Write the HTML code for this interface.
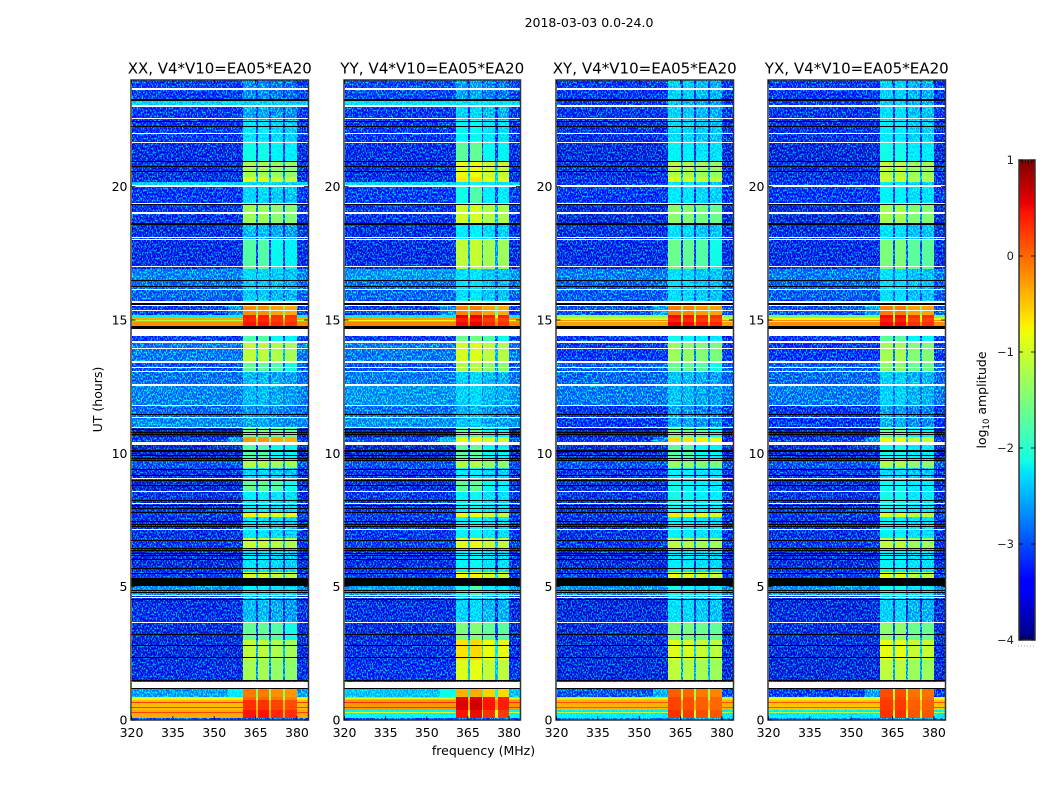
<!DOCTYPE html>
<html lang="en">
<head>
<meta charset="utf-8">
<title>2018-03-03 dynamic spectra</title>
<style>
html,body{margin:0;padding:0;background:#fff;}
svg{display:block;font-family:"DejaVu Sans","Liberation Sans",sans-serif;fill:#000;}
</style>
</head>
<body>
<svg id="figure" xmlns="http://www.w3.org/2000/svg" width="1050" height="800" viewBox="0 0 1050 800">
  <defs>
    <filter id="speckle" filterUnits="userSpaceOnUse" x="0" y="0" width="1050" height="800" color-interpolation-filters="sRGB">
      <feTurbulence type="fractalNoise" baseFrequency="0.8 0.5" numOctaves="1" seed="7" result="raw"/>
      <feColorMatrix in="raw" type="matrix" values="0 0 0 0 0  5 0 0 0 -2.3  0 0 0 0 0  0 0 0 0 1" result="grain"/>
      <feColorMatrix in="SourceGraphic" type="matrix" values="0 0 0 0 0  0 0 1 0 0  0 0 0 0 0  0 0 0 1 0" result="coldMask"/>
      <feComposite in="coldMask" in2="grain" operator="arithmetic" k1="1" k2="0" k3="0" k4="0" result="coldGrain"/>
      <feComposite in="SourceGraphic" in2="coldGrain" operator="arithmetic" k1="0" k2="1" k3="0.8" k4="0"/>
    </filter>
    <linearGradient id="jet-gradient" x1="0" y1="1" x2="0" y2="0"></linearGradient>
  </defs>
  <rect width="1050" height="800" fill="#fff"/>
  <text x="589" y="27" font-size="12.5" text-anchor="middle">2018-03-03 0.0-24.0</text>
  <text transform="translate(102,399.5) rotate(-90)" font-size="12.5" text-anchor="middle">UT (hours)</text>
  <text x="483.5" y="755" font-size="12.5" text-anchor="middle">frequency (MHz)</text>
  <text transform="translate(986,400) rotate(-90)" font-size="12.5" text-anchor="middle">log<tspan font-size="8.5" dy="3">10</tspan><tspan dy="-3"> amplitude</tspan></text>
  <g id="panels"></g>
  <g id="colorbar"></g>
</svg>
<script>
// UT band edges (hours) shared by all polarisation panels
const utEdges = [0,.075,.375,.75,.86,1.2,1.5,2.25,3.0,3.64,4.43,4.69,5.03,5.33,5.55,6.45,6.83,7.61,7.76,8.55,9.0,9.45,9.71,10.31,10.61,10.95,11.33,11.78,12.56,13.05,13.43,14.18,14.4,14.79,14.93,15.08,15.2,15.53,15.75,16.5,16.91,18.0,18.56,19.31,19.99,20.07,20.18,20.36,20.93,21.7,22.5,22.99,23.06,23.22,24];

// log10 amplitude outside the band-pass windows, one value per UT band
const xxBackground = [-2.9,-.35,-.45,-1.2,-2.5,-3.1,-3.2,-3.25,-3.25,-3.2,-3.3,-2.6,-3.3,-3,-3.25,-3.05,-3.2,-3.05,-3.2,-3.3,-3.2,-2.9,-3.3,-3,-3.45,-2.6,-2.8,-2.65,-2.75,-2.9,-2.7,-3,-3.3,-.2,-.35,-1.9,-3,-3.1,-2.8,-2.65,-3.2,-3.2,-3.15,-3.05,-3,-2.2,-3.2,-3.2,-3.2,-3.1,-3.1,-3,-2.2,-3];
const yyBackground = [-2.9,-1.9,-.25,-.45,-2.3,-3.1,-3.15,-3.2,-3.25,-3.2,-3.3,-2.5,-3.3,-3,-3.2,-3,-3.15,-3,-3.15,-3.25,-3.15,-2.9,-3.3,-2.9,-3.45,-2.55,-2.75,-2.55,-2.7,-2.9,-2.7,-3,-3.3,-.15,-.3,-2,-3,-3,-2.8,-2.55,-3.2,-3.2,-3.15,-3,-3,-2.2,-3.2,-3.2,-3.2,-3.1,-3.1,-3,-2.1,-2.95];
const xyBackground = [-2.6,-2,-.4,-1.5,-2.9,-3.1,-3.25,-3.25,-3.25,-3.25,-3.3,-2.6,-3.3,-3,-3.25,-3.05,-3.2,-3.05,-3.2,-3.25,-3.15,-2.9,-3.25,-3.1,-3.4,-3.1,-3.15,-2.7,-2.8,-2.85,-3.1,-3.1,-3.3,-.3,-1,-1.4,-2.9,-3,-2.85,-2.7,-3.2,-3.2,-3.25,-3.1,-3,-3.1,-3.2,-3.2,-3.25,-3.2,-3.15,-3.1,-3.1,-3.05];
const yxBackground = [-2.6,-2,-.5,-1,-3,-3.1,-3.25,-3.25,-3.25,-3.25,-3.3,-2.6,-3.3,-3,-3.25,-3.05,-3.2,-3.05,-3.2,-3.25,-3.15,-2.9,-3.25,-3.1,-3.4,-3.1,-3.15,-2.7,-2.8,-2.85,-3.05,-3.1,-3.3,-.2,-.75,-1.6,-2.9,-3,-2.85,-2.7,-3.2,-3.2,-3.25,-3.1,-3,-3.1,-3.2,-3.2,-3.25,-3.2,-3.15,-3.1,-3.05,-3.05];

// log10 amplitude inside the band-pass windows, one value per UT band
const xxSignal = [-2.9,.4,.25,-.05,-.15,-3,-1.3,-1.15,-1.7,-2.4,-2.4,-2,-2,-1,-2.1,-1.1,-2.1,-.8,-2,-1.7,-2.2,-1.2,-1.8,-.3,-1.6,-2.5,-2.6,-2.4,-2.4,-1.7,-1.15,-1.8,-2.2,.4,.3,.35,-.25,-1.9,-2.3,-2.2,-1.8,-2.4,-1.35,-2.2,-2.2,-2.2,-.95,-1.3,-1.85,-2.1,-2.5,-2.3,-2.3,-2.65];
const yySignal = [-2.9,.35,.5,.45,-.5,-3,-1,-.75,-1.6,-2.3,-2.3,-1.9,-2,-.9,-2,-1,-2,-.95,-2,-1.8,-2.1,-1.3,-1.8,-.9,-1.8,-2.4,-2.5,-2.3,-2.3,-1.3,-1.05,-1.7,-2,.4,.3,.45,-.25,-1.9,-2.2,-2.2,-1.2,-2.1,-1.1,-1.9,-2,-2,-.8,-.95,-1.8,-2,-2.3,-2.2,-2.2,-2.6];
const xySignal = [-2.6,.2,.1,.1,-.05,-3,-1.2,-1,-1.55,-2.2,-2.2,-1.9,-2,-.95,-2.05,-1.2,-2,-.8,-1.9,-1.9,-2,-1.4,-1.8,-.7,-1.7,-2.5,-2.6,-2.4,-2.4,-1.7,-1.4,-1.9,-2.1,.45,.3,.4,-.2,-2,-2.2,-2.2,-1.7,-2.2,-1.5,-2.1,-2.1,-2.1,-1,-1.25,-2,-2.2,-2.3,-2.3,-2.4,-2.3];
const yxSignal = [-2.6,.2,.15,.1,.05,-3,-1.2,-.95,-1.5,-2.3,-2.3,-1.9,-2,-1,-2,-1.2,-2,-1,-1.9,-1.9,-2.2,-1.3,-1.9,-.95,-1.8,-2.5,-2.6,-2.3,-2.3,-1.5,-1.35,-1.8,-2.1,.4,.3,.4,-.2,-2,-2.2,-2.2,-1.6,-2.2,-1.35,-2,-2,-2.1,-1.1,-1.2,-1.9,-2.1,-2.2,-2.2,-2.3,-2.3];

// per-window log10 offsets relative to each panel's signal level
const xxWindowOffset = [.05,.05,-.05,-.1];
const yyWindowOffset = [.1,.15,-.05,-.1];
const xyWindowOffset = [.1,.05,-.05,-.1];
const yxWindowOffset = [.1,.1,-.1,-.1];

// extra log10 amplitude on the low-frequency shoulder (355 MHz to first window)
const shoulderLift = [0,0,0,0,.5,0,0,0,0,0,0,0,0,0,0,0,0,0,0,0,0,0,0,.5,0,0,0,0,0,0,0,0,0,0,0,0,.4,0,0,0,0,0,0,0,0,0,0,0,0,0,0,0,0,0];

// thin narrow-band streaks across the hot rows: UT and per-panel log10 level
const streakUt = [.3,.47,.66,.83,15.0];
const xxStreakLevel = [.2,.25,.25,-.85,-1.2];
const yyStreakLevel = [-1,.3,.3,-.9,-.8];
const xyStreakLevel = [-1.2,.1,.1,-1,-.2];
const yxStreakLevel = [-1.2,.1,.1,-.9,-.2];

// band-pass windows in MHz
const windowStart = [360.5,365.8,370.6,375.8];
const windowEnd = [365,370,375,380];

// flagged UT intervals (hours): no data (white)
const whiteStart = [1.21,3.625,4.575,4.65,7.125,8.11,8.56,9.04,10.31,10.95,11.325,11.775,12.525,13.06,13.19,13.4,13.9,14.15,14.4,15.34,15.51,15.65,16.11,16.98,18.0,18.06,18.99,19.34,19.99,21.64,21.975,22.54,22.99,23.625];
const whiteEnd = [1.425,3.66,4.61,4.69,7.175,8.15,8.6,9.075,10.41,10.99,11.36,11.81,12.59,13.1,13.22,13.47,13.95,14.22,14.65,15.375,15.57,15.7,16.15,17.03,18.04,18.11,19.05,19.39,20.07,21.69,22.02,22.59,23.06,23.7];

// flagged UT intervals (hours): below colour range (black)
const blackStart = [1.19,1.45,2.31,2.775,3.175,4.5,4.78,4.84,5.025,5.475,5.675,6,6.14,6.24,6.34,6.42,6.71,7.25,7.31,7.425,7.78,7.92,8.04,8.21,8.79,8.96,9.15,9.375,9.71,9.8,9.9,10.06,10.69,10.76,10.875,11.45,14.65,15.57,16.225,16.46,18.55,19.3,20.55,20.74,20.925,22.24,22.43,23.22];
const blackEnd = [1.21,1.51,2.35,2.81,3.21,4.54,4.8,4.875,5.31,5.51,5.71,6.04,6.175,6.275,6.375,6.46,6.75,7.29,7.35,7.46,7.81,7.96,8.08,8.25,8.81,9,9.2,9.42,9.75,9.84,9.94,10.125,10.725,10.8,10.91,11.49,14.79,15.65,16.275,16.5,18.63,19.34,20.59,20.775,20.95,22.275,22.47,23.29];

// axis ticks
const freqTicks = [320,335,350,365,380];
const utTicks = [0,5,10,15,20];
const colorbarTicks = [-4,-3,-2,-1,0,1];
const colorbarLabels = ["\u22124","\u22123","\u22122","\u22121","0","1"];

const SVGNS = "http://www.w3.org/2000/svg";
const FREQ_MIN = 320, FREQ_MAX = 384, UT_MIN = 0, UT_MAX = 24;
const PLOT_TOP = 80, PLOT_BOTTOM = 720;
const CB_TOP = 160, CB_BOTTOM = 640, CB_LEFT = 1019, CB_RIGHT = 1035;
const LEVEL_MIN = -4, LEVEL_MAX = 1;
const GRAIN_BIAS = 0.35, GRAIN_CEILING = -1.75, GAP_DROP = 1.3;

const panels = [
  {key:"xx", title:"XX, V4*V10=EA05*EA20", left:131.5, right:308, background:xxBackground, signal:xxSignal, offset:xxWindowOffset, streak:xxStreakLevel},
  {key:"yy", title:"YY, V4*V10=EA05*EA20", left:344.5, right:520, background:yyBackground, signal:yySignal, offset:yyWindowOffset, streak:yyStreakLevel},
  {key:"xy", title:"XY, V4*V10=EA05*EA20", left:556.5, right:733, background:xyBackground, signal:xySignal, offset:xyWindowOffset, streak:xyStreakLevel},
  {key:"yx", title:"YX, V4*V10=EA05*EA20", left:768.5, right:945, background:yxBackground, signal:yxSignal, offset:yxWindowOffset, streak:yxStreakLevel}
];

function make(tag, attrs, parent) {
  const el = document.createElementNS(SVGNS, tag);
  for (const k in attrs) el.setAttribute(k, attrs[k]);
  parent.appendChild(el);
  return el;
}
function interp(points, f) {
  for (let i = 1; i < points.length; i++) {
    if (f <= points[i][0]) {
      const a = points[i-1], b = points[i];
      return a[1] + (b[1]-a[1]) * (f-a[0]) / (b[0]-a[0]);
    }
  }
  return points[points.length-1][1];
}
function jet(f) {
  f = Math.max(0, Math.min(1, f));
  const r = interp([[0,0],[.35,0],[.66,1],[.89,1],[1,.5]], f);
  const g = interp([[0,0],[.125,0],[.375,1],[.64,1],[.91,0],[1,0]], f);
  const b = interp([[0,.5],[.11,1],[.34,1],[.65,0],[1,0]], f);
  return "rgb(" + Math.round(r*255) + "," + Math.round(g*255) + "," + Math.round(b*255) + ")";
}
function levelColor(v) { return jet((v - LEVEL_MIN) / (LEVEL_MAX - LEVEL_MIN)); }
function yScale(ut) { return PLOT_BOTTOM - (ut - UT_MIN) / (UT_MAX - UT_MIN) * (PLOT_BOTTOM - PLOT_TOP); }
function xScale(p, freq) { return p.left + (freq - FREQ_MIN) / (FREQ_MAX - FREQ_MIN) * (p.right - p.left); }
function cbScale(v) { return CB_BOTTOM - (v - LEVEL_MIN) / (LEVEL_MAX - LEVEL_MIN) * (CB_BOTTOM - CB_TOP); }

function drawCell(group, p, f0, f1, t0, t1, level) {
  const x0 = Math.round(xScale(p, f0)), x1 = Math.round(xScale(p, f1));
  const y0 = Math.round(yScale(t1)), y1 = Math.round(yScale(t0));
  if (x1 <= x0 || y1 <= y0) return;
  const shown = level < GRAIN_CEILING ? level - GRAIN_BIAS : level;
  const r = make("rect", {x:x0, y:y0, width:x1-x0, height:y1-y0, fill:levelColor(shown), "shape-rendering":"crispEdges"}, group);
  
  
}
function drawFlag(group, p, t0, t1, color, name) {
  const y0 = Math.round(yScale(t1));
  const y1 = Math.max(y0 + 1, Math.round(yScale(t0)));
  const r = make("rect", {x:p.left, y:y0, width:p.right-p.left, height:y1-y0, fill:color, "shape-rendering":"crispEdges"}, group);
  
  
}

const panelsRoot = document.getElementById("panels");
panels.forEach(function (p) {
  const g = make("g", {}, panelsRoot);
  
  

  const title = make("text", {x:(p.left+p.right)/2, y:73.5, "font-size":"15.5", "text-anchor":"middle", textLength:"184", lengthAdjust:"spacingAndGlyphs"}, g);
  title.textContent = p.title;
  
  

  const cells = make("g", {filter:"url(#speckle)"}, g);
  
  

  for (let b = 0; b < utEdges.length - 1; b++) {
    const t0 = utEdges[b], t1 = utEdges[b+1];
    const bg = p.background[b], sig = p.signal[b];
    drawCell(cells, p, FREQ_MIN, 355, t0, t1, bg);
    drawCell(cells, p, 355, windowStart[0], t0, t1, bg + shoulderLift[b]);
    for (let w = 0; w < windowStart.length; w++) {
      drawCell(cells, p, windowStart[w], windowEnd[w], t0, t1, Math.max(bg, sig + p.offset[w]));
      if (w < windowStart.length - 1) {
        drawCell(cells, p, windowEnd[w], windowStart[w+1], t0, t1, Math.max(bg, sig - GAP_DROP));
      }
    }
    drawCell(cells, p, windowEnd[windowEnd.length-1], FREQ_MAX, t0, t1, bg);
  }

  streakUt.forEach(function (u, i) {
    const y = Math.round(yScale(u));
    const left = make("rect", {x:p.left, y:y, width:xScale(p, windowStart[0])-p.left, height:1, fill:levelColor(p.streak[i]), "shape-rendering":"crispEdges"}, g);
    
    
    const right = make("rect", {x:xScale(p, windowEnd[3]), y:y, width:p.right-xScale(p, windowEnd[3]), height:1, fill:levelColor(p.streak[i]), "shape-rendering":"crispEdges"}, g);
    
    
  });

  for (let i = 0; i < whiteStart.length; i++) {
    drawFlag(g, p, whiteStart[i], whiteEnd[i], "#fff", "flagged-white-band");
  }
  for (let i = 0; i < blackStart.length; i++) {
    drawFlag(g, p, blackStart[i], blackEnd[i], "#000", "flagged-black-band");
  }

  const frame = make("rect", {x:p.left-.5, y:PLOT_TOP, width:p.right-p.left+1, height:PLOT_BOTTOM-PLOT_TOP, fill:"none", stroke:"#333", "stroke-width":"1.5"}, g);
  
  

  freqTicks.forEach(function (f) {
    const x = xScale(p, f);
    const tb = make("line", {x1:x, x2:x, y1:PLOT_BOTTOM, y2:PLOT_BOTTOM-4, stroke:"#000", "stroke-width":".8"}, g);
    
    
    const tt = make("line", {x1:x, x2:x, y1:PLOT_TOP, y2:PLOT_TOP+4, stroke:"#000", "stroke-width":".8"}, g);
    
    
    const lab = make("text", {x:x, y:737, "font-size":"12.5", "text-anchor":"middle"}, g);
    lab.textContent = String(f);
    
    
  });
  utTicks.forEach(function (u) {
    const y = yScale(u);
    const tl = make("line", {x1:p.left, x2:p.left+4, y1:y, y2:y, stroke:"#000", "stroke-width":".8"}, g);
    
    
    const tr = make("line", {x1:p.right, x2:p.right-4, y1:y, y2:y, stroke:"#000", "stroke-width":".8"}, g);
    
    
    const lab = make("text", {x:p.left-4, y:y+4.5, "font-size":"12.5", "text-anchor":"end"}, g);
    lab.textContent = String(u);
    
    
  });
});

// colorbar
const grad = document.getElementById("jet-gradient");
[0,.11,.125,.34,.35,.375,.64,.65,.66,.89,.91,1].forEach(function (f) {
  make("stop", {offset:f, "stop-color":jet(f)}, grad);
});
const cb = document.getElementById("colorbar");
const cbBar = make("rect", {x:CB_LEFT, y:CB_TOP, width:CB_RIGHT-CB_LEFT, height:CB_BOTTOM-CB_TOP, fill:"url(#jet-gradient)", stroke:"#333", "stroke-width":"1.5"}, cb);


colorbarTicks.forEach(function (v, i) {
  const y = cbScale(v);
  const a = make("line", {x1:CB_LEFT, x2:CB_LEFT+4, y1:y, y2:y, stroke:"#000", "stroke-width":".8"}, cb);
  
  
  const b = make("line", {x1:CB_RIGHT, x2:CB_RIGHT-4, y1:y, y2:y, stroke:"#000", "stroke-width":".8"}, cb);
  
  
  const lab = make("text", {x:CB_LEFT-5, y:y+4, "font-size":"11.5", "text-anchor":"end", fill:"#222"}, cb);
  lab.textContent = colorbarLabels[i];
  
  
});
for (let k = 1; k <= 4; k++) {
  const x = CB_LEFT + k * (CB_RIGHT - CB_LEFT) / 5;
  const top = make("line", {x1:x, x2:x, y1:CB_TOP, y2:CB_TOP+4, stroke:"#000", "stroke-width":".7"}, cb);
  
  
  const bot = make("line", {x1:x, x2:x, y1:CB_BOTTOM, y2:CB_BOTTOM-4, stroke:"#000", "stroke-width":".7"}, cb);
  
  
}
const dots = make("line", {x1:CB_LEFT-1, x2:CB_RIGHT, y1:646, y2:646, stroke:"#aaa", "stroke-width":"1", "stroke-dasharray":"1 2"}, cb);


</script>
</body>
</html>
